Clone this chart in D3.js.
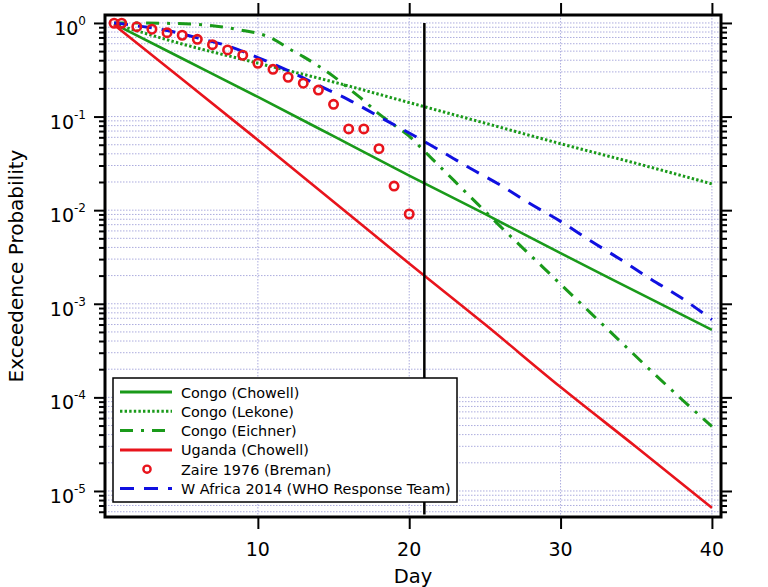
<!DOCTYPE html>
<html><head><meta charset="utf-8">
<script src="https://cdn.jsdelivr.net/npm/d3@7"></script>
<style>body{margin:0;background:#fff} svg{display:block}</style>
</head><body>
<svg id="chart" width="768" height="587"></svg>
<script>
// ---------- data ----------
const modelDays = [0.5, 5, 10, 15, 20, 25, 30, 35, 40];
const congoChowell = [0.977, 0.417, 0.162, 0.0617, 0.0234, 0.00912, 0.00347, 0.00135, 0.000525];
const congoLekone = [0.977, 0.596, 0.372, 0.234, 0.141, 0.0851, 0.0513, 0.0316, 0.0191];
const ugandaChowell = [0.955, 0.251, 0.0562, 0.0123, 0.00269, 0.000603, 0.000129, 0.0000295, 0.0000066];
const eichnerDays = [0.5, 2, 4, 6, 7, 8, 9, 10, 11, 12, 13, 14, 15, 16, 17, 18, 19, 20, 21, 22, 23, 24, 25, 26, 28, 30, 32, 34, 36, 38, 40];
const congoEichner = [1.0, 1.0, 0.991, 0.966, 0.933, 0.891, 0.832, 0.776, 0.676, 0.537, 0.437, 0.347, 0.269, 0.200, 0.148, 0.107, 0.0813, 0.0617, 0.0427, 0.0295, 0.0204, 0.0141, 0.00977, 0.00676, 0.00331, 0.00162, 0.000794, 0.000389, 0.000191, 0.0000955, 0.000049];
const whoDays = [0.5, 2, 4, 6, 8, 10, 12, 14, 16, 18, 20, 22, 24, 26, 28, 30, 32, 34, 36, 38, 40];
const wAfrica2014 = [1.0, 0.933, 0.832, 0.692, 0.569, 0.427, 0.309, 0.216, 0.151, 0.100, 0.0668, 0.0437, 0.0282, 0.0186, 0.0117, 0.00759, 0.00468, 0.00295, 0.00182, 0.00115, 0.000676];
const zaireDays = [0.5, 1, 2, 3, 4, 5, 6, 7, 8, 9, 10, 11, 12, 13, 14, 15, 16, 17, 18, 19, 20];
const zaire1976 = [0.993, 0.993, 0.913, 0.857, 0.788, 0.739, 0.669, 0.586, 0.515, 0.452, 0.371, 0.320, 0.263, 0.227, 0.192, 0.135, 0.0738, 0.0738, 0.0454, 0.0181, 0.0091];
const cutoffDay = 21;
const cutoffProb = [1, 5.6e-6];
const xTickValues = [10, 20, 30, 40];
const yExponents = [0, -1, -2, -3, -4, -5];
const legendLabels = ["Congo (Chowell)", "Congo (Lekone)", "Congo (Eichner)", "Uganda (Chowell)", "Zaire 1976 (Breman)", "W Africa 2014 (WHO Response Team)"];
const xTitle = "Day";
const yTitle = "Exceedence Probability";

// ---------- layout ----------
const L = 105, R = 721, T = 15, B = 517;
const GREEN = "#1a9a1a", RED = "#e8141c", BLUE = "#1010e0", GRID = "#acacde";
const FONT = "'DejaVu Sans', sans-serif";

const svg = d3.select("#chart");
const x = d3.scaleLinear().domain([-0.1, 40.6]).range([L, R]);
const y = d3.scaleLog().domain([Math.pow(10, -5.278), Math.pow(10, 0.085)]).range([B, T]);

// minor tick values
const allLogTicks = [];
for (let e = -6; e <= 0; e++) for (let m = 1; m <= 9; m++) {
  const v = m * Math.pow(10, e);
  if (v >= y.domain()[0] && v <= y.domain()[1]) allLogTicks.push(v);
}
const majorVals = yExponents.map(e => Math.pow(10, e));
const minorVals = allLogTicks.filter(v => !majorVals.some(m => Math.abs(m - v) / m < 1e-9));

// grid
const grid = svg.append("g");
grid.selectAll("line.h").data(allLogTicks).join("line")
  .attr("x1", L).attr("x2", R).attr("y1", d => y(d)).attr("y2", d => y(d))
  .attr("stroke", GRID).attr("stroke-width", 1).attr("stroke-dasharray", "1.5,1.5");
grid.selectAll("line.v").data(xTickValues).join("line")
  .attr("x1", d => x(d)).attr("x2", d => x(d)).attr("y1", T).attr("y2", B)
  .attr("stroke", GRID).attr("stroke-width", 1).attr("stroke-dasharray", "1.5,1.5");

// axes (ticks)
function styleAxis(g) {
  g.select(".domain").remove();
  g.selectAll(".tick line").attr("stroke", "#000").attr("stroke-width", 2);
  g.selectAll(".tick text").remove();
}
svg.append("g").attr("transform", `translate(${L},0)`)
  .call(d3.axisLeft(y).tickValues(majorVals).tickSize(11)).call(styleAxis);
svg.append("g").attr("transform", `translate(${L},0)`)
  .call(d3.axisLeft(y).tickValues(minorVals).tickSize(6)).call(styleAxis);
svg.append("g").attr("transform", `translate(${R},0)`)
  .call(d3.axisRight(y).tickValues(majorVals).tickSize(11)).call(styleAxis);
svg.append("g").attr("transform", `translate(${R},0)`)
  .call(d3.axisRight(y).tickValues(minorVals).tickSize(6)).call(styleAxis);
svg.append("g").attr("transform", `translate(0,${B})`)
  .call(d3.axisBottom(x).tickValues(xTickValues).tickSize(12)).call(styleAxis);
svg.append("g").attr("transform", `translate(0,${T})`)
  .call(d3.axisTop(x).tickValues(xTickValues).tickSize(12)).call(styleAxis);

// y tick labels with superscripts
const ylab = svg.append("g").attr("font-family", FONT).attr("fill", "#000");
yExponents.forEach(e => {
  const yy = y(Math.pow(10, e));
  const t = ylab.append("text").attr("x", 86).attr("y", yy + 12).attr("text-anchor", "end").attr("font-size", 19);
  t.append("tspan").text("10");
  t.append("tspan").attr("font-size", 12).attr("dy", -10).text(e === 0 ? "0" : "-" + Math.abs(e));
});
// x tick labels
svg.append("g").selectAll("text").data(xTickValues).join("text")
  .attr("x", d => x(d)).attr("y", 556).attr("text-anchor", "middle")
  .attr("font-family", FONT).attr("font-size", 19).text(d => d);
// titles
svg.append("text").attr("x", 413).attr("y", 583).attr("text-anchor", "middle")
  .attr("font-family", FONT).attr("font-size", 19.5).text(xTitle);
svg.append("text").attr("transform", "translate(23,266) rotate(-90)").attr("text-anchor", "middle")
  .attr("font-family", FONT).attr("font-size", 20).text(yTitle);

// lines
const line = d3.line().x(d => x(d[0])).y(d => y(d[1])).curve(d3.curveMonotoneX);
const plot = svg.append("g");
function addLine(days, vals, color, dash, width) {
  plot.append("path").datum(days.map((d, i) => [d, vals[i]]))
    .attr("d", line).attr("fill", "none").attr("stroke", color)
    .attr("stroke-width", width).attr("stroke-dasharray", dash);
}
addLine(modelDays, congoChowell, GREEN, null, 2.6);
addLine(modelDays, congoLekone, GREEN, "2.4,2.2", 3);
addLine(eichnerDays, congoEichner, GREEN, "13,8,3,8", 3);
addLine(modelDays, ugandaChowell, RED, null, 2.6);
addLine(whoDays, wAfrica2014, BLUE, "14,10", 3);

plot.selectAll("circle").data(zaireDays.map((d, i) => [d, zaire1976[i]])).join("circle")
  .attr("cx", d => x(d[0])).attr("cy", d => y(d[1])).attr("r", 4.2)
  .attr("fill", "none").attr("stroke", RED).attr("stroke-width", 2.6);

// vertical cutoff line
plot.append("line").attr("x1", x(cutoffDay)).attr("x2", x(cutoffDay))
  .attr("y1", y(cutoffProb[0])).attr("y2", y(cutoffProb[1]))
  .attr("stroke", "#000").attr("stroke-width", 2.5);

// frame
svg.append("rect").attr("x", L).attr("y", T).attr("width", R - L).attr("height", B - T)
  .attr("fill", "none").attr("stroke", "#000").attr("stroke-width", 3);

// legend
const lg = svg.append("g");
lg.append("rect").attr("x", 113).attr("y", 378).attr("width", 344).attr("height", 124)
  .attr("fill", "#fff").attr("stroke", "#000").attr("stroke-width", 1.5);
const legStyles = [
  {c: GREEN, dash: null}, {c: GREEN, dash: "2.4,2.2"}, {c: GREEN, dash: "13,8,3,8"},
  {c: RED, dash: null}, {c: RED, circle: true}, {c: BLUE, dash: "14,10"}
];
legendLabels.forEach((lab, i) => {
  const yy = 392 + i * 19.3;
  const s = legStyles[i];
  if (s.circle) {
    lg.append("circle").attr("cx", 147).attr("cy", yy).attr("r", 3.6)
      .attr("fill", "none").attr("stroke", s.c).attr("stroke-width", 2.4);
  } else {
    lg.append("line").attr("x1", 120).attr("x2", 172).attr("y1", yy).attr("y2", yy)
      .attr("stroke", s.c).attr("stroke-width", 3).attr("stroke-dasharray", s.dash);
  }
  lg.append("text").attr("x", 181).attr("y", yy + 5.5).attr("font-family", FONT)
    .attr("font-size", 14.4).text(lab);
});
</script>
</body></html>
